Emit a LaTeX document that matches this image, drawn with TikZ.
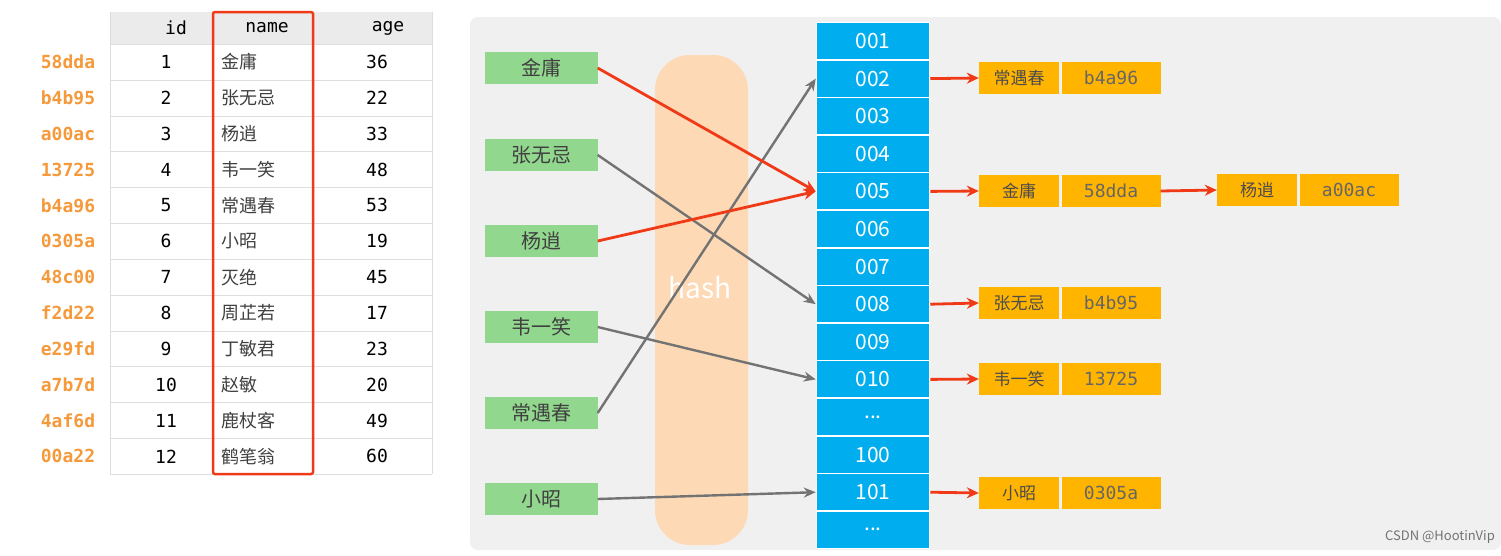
\documentclass[tikz,border=0pt]{standalone}
\usepackage{fontspec}
\setmainfont{Noto Sans CJK SC}
\newfontfamily\monof{DejaVu Sans Mono}
\usetikzlibrary{arrows.meta}
\definecolor{grn}{HTML}{92D78E}
\definecolor{blu}{HTML}{00AEEF}
\definecolor{org}{HTML}{FFB400}
\definecolor{hashc}{HTML}{FDD9B5}
\definecolor{rd}{HTML}{F03A17}
\definecolor{hashtxt}{HTML}{F5993A}
\definecolor{gridc}{HTML}{DDDDDD}
\tikzset{
  greenbox/.style={fill=grn,minimum width=113pt,minimum height=32pt,inner sep=0pt,text=black!75,font=\fontsize{20}{22}\selectfont},
  bluebox/.style={fill=blu,draw=white,line width=1.5pt,minimum width=113pt,minimum height=37.5pt,inner sep=0pt,text=white,font=\fontsize{21}{23}\selectfont},
  namebox/.style={fill=org,minimum width=80pt,minimum height=32pt,inner sep=0pt,text=black!70,font=\fontsize{17}{19}\selectfont},
  valbox/.style={fill=org,minimum width=99pt,minimum height=32pt,inner sep=0pt,text=black!60,font=\monof\fontsize{18}{20}\selectfont},
  redarr/.style={rd,line width=2.8pt,-{Stealth[length=12pt,width=11pt]}},
  greyarr/.style={black!55,line width=2.4pt,-{Stealth[length=12pt,width=10pt]}},
  cell/.style={inner sep=0pt,font=\fontsize{18}{20}\selectfont},
  hashlbl/.style={text=hashtxt,font=\monof\bfseries\fontsize{18}{20}\selectfont},
}
\begin{document}
\begin{tikzpicture}[x=1pt,y=-1pt]
\useasboundingbox (0,0) rectangle (1501,555);
\fill[white] (0,0) rectangle (1501,555);
% table
\fill[black!8] (110,12) rectangle (432,44);
\foreach \i in {0,1,2,3,4,5,6,7,8,9,10,11,12} \draw[gridc] (110,{44+\i*35.85}) -- (432,{44+\i*35.85});
\draw[gridc] (110,12) -- (110,474) (212,12)--(212,474) (312,12)--(312,474) (432,12)--(432,474);
\node[cell] (hid) at (176,28) {\monof id};
\node[cell] (hname) at (267,28) {\monof name};
\node[cell] (hage) at (388,28) {\monof age};
\foreach \h/\n/\a [count=\i] in {58dda/金庸/36,b4b95/张无忌/22,a00ac/杨逍/33,13725/韦一笑/48,b4a96/常遇春/53,0305a/小昭/19,48c00/灭绝/45,f2d22/周芷若/17,e29fd/丁敏君/23,a7b7d/赵敏/20,4af6d/鹿杖客/49,00a22/鹤笔翁/60}{
  \node[hashlbl] (h\i) at (68,{62+(\i-1)*35.85}) {\h};
  \node[cell] (id\i) at (166,{62+(\i-1)*35.85}) {\monof\i};
  \node[cell,anchor=west,text=black!75] (n\i) at (221,{62+(\i-1)*35.85}) {\n};
  \node[cell] (a\i) at (377,{62+(\i-1)*35.85}) {\monof\a};
}
\draw[rd,line width=2.5pt,rounded corners=2pt] (213,12) rectangle (313,474);
% right panel
\fill[black!6,rounded corners=8pt] (470,17) rectangle (1501,550);
\fill[hashc,rounded corners=35pt] (655,55) rectangle (748,545);
\node[text=white,font=\fontsize{28}{30}\selectfont] (hash) at (700,288) {hash};
\foreach \t/\y [count=\i] in {金庸/68,张无忌/155,杨逍/241,韦一笑/327,常遇春/413,小昭/499}
  \node[greenbox] (g\i) at (541,\y) {\t};
\foreach \t [count=\i] in {001,002,003,004,005,006,007,008,009,010}
  \node[bluebox] (b\i) at (873,{41+(\i-1)*37.6}) {\t};
\node[bluebox] (b11) at (873,{41+10*37.6}) {...};
\node[bluebox] (b12) at (873,{41+11*37.6}) {100};
\node[bluebox] (b13) at (873,{41+12*37.6}) {101};
\node[bluebox] (b14) at (873,{41+13*37.6}) {...};
\node[namebox] (o1) at (1019,78) {常遇春};  \node[valbox] (v1) at (1111,78) {b4a96};
\node[namebox] (o2) at (1019,191) {金庸};   \node[valbox] (v2) at (1111,191) {58dda};
\node[namebox] (o3) at (1257,190) {杨逍};   \node[valbox] (v3) at (1349,190) {a00ac};
\node[namebox] (o4) at (1019,303) {张无忌}; \node[valbox] (v4) at (1111,303) {b4b95};
\node[namebox] (o5) at (1019,379) {韦一笑}; \node[valbox] (v5) at (1111,379) {13725};
\node[namebox] (o6) at (1019,493) {小昭};   \node[valbox] (v6) at (1111,493) {0305a};
\draw[greyarr] (g2.east) -- (b8.west);
\draw[greyarr] (g4.east) -- (b10.west);
\draw[greyarr] (g5.east) -- (b2.west);
\draw[greyarr] (g6.east) -- (b13.west);
\draw[redarr] (g1.east) -- (b5.west);
\draw[redarr] (g3.east) -- (b5.west);
\draw[redarr] (b2.east) -- (o1.west);
\draw[redarr] (b5.east) -- (o2.west);
\draw[redarr] (v2.east) -- (o3.west);
\draw[redarr] (b8.east) -- (o4.west);
\draw[redarr] (b10.east) -- (o5.west);
\draw[redarr] (b13.east) -- (o6.west);
\node[text=black!55,font=\fontsize{13}{15}\selectfont] (wm) at (1440,537) {CSDN @HootinVip};
\end{tikzpicture}
\end{document}
